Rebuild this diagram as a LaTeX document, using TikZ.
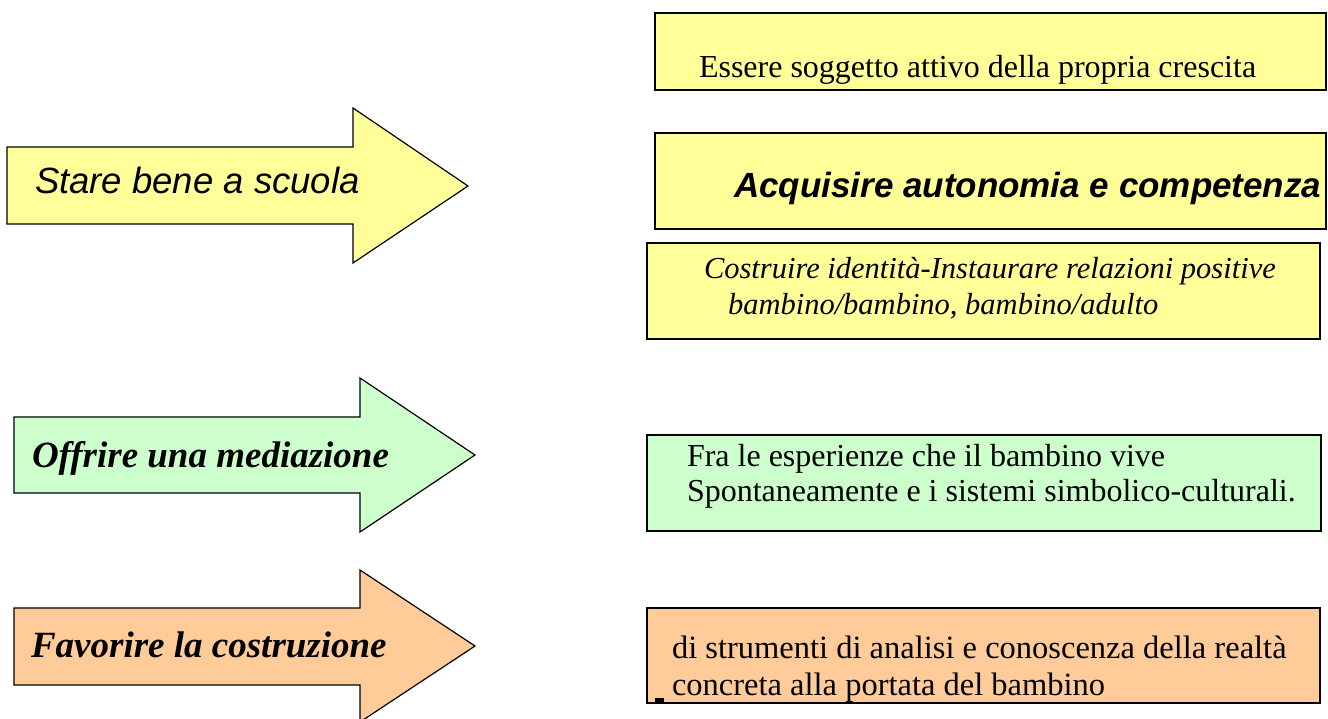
\documentclass[tikz,border=0pt]{standalone}
\usepackage{fontspec}
\setmainfont{Liberation Serif}
\setsansfont{Liberation Sans}
\definecolor{ylw}{HTML}{FFFF99}
\definecolor{grn}{HTML}{CCFFCC}
\definecolor{org}{HTML}{FFCC99}
\begin{document}
\begin{tikzpicture}[x=1pt,y=-1pt,
  arrowshape/.style={draw=black,line width=1.2pt,line join=miter},
  boxframe/.style={draw=black,line width=1.6pt},
  txt/.style={inner sep=0pt,outer sep=0pt,anchor=base west}]
\useasboundingbox (0,0) rectangle (1328,718);
% arrows
\filldraw[arrowshape,fill=ylw] (7,147) -- (353,147) -- (353,108) -- (468,186) -- (353,263) -- (353,224) -- (7,224) -- cycle;
\filldraw[arrowshape,fill=grn] (14,417) -- (360,417) -- (360,378) -- (475,455) -- (360,532) -- (360,493) -- (14,493) -- cycle;
\filldraw[arrowshape,fill=org] (14,608) -- (360,608) -- (360,570) -- (475,646) -- (360,722) -- (360,685) -- (14,685) -- cycle;
\node[txt] (a1) at (35,193) {\fontsize{36.5}{40}\sffamily\itshape Stare bene a scuola};
\node[txt] (a2) at (32,467) {\fontsize{37}{40}\bfseries\itshape Offrire una mediazione};
\node[txt] (a3) at (31,657) {\fontsize{37}{40}\bfseries\itshape Favorire la costruzione};
% boxes
\filldraw[boxframe,fill=ylw] (655,13) rectangle (1326,90);
\filldraw[boxframe,fill=ylw] (655,133) rectangle (1326,229);
\filldraw[boxframe,fill=ylw] (647,243) rectangle (1320,339);
\filldraw[boxframe,fill=grn] (647,435) rectangle (1321,531);
\filldraw[boxframe,fill=org] (647,608) rectangle (1320,703);
\node[txt] (t1) at (699,77) {\fontsize{32}{35}\selectfont Essere soggetto attivo della propria crescita};
\node[txt] (t2) at (734,197) {\fontsize{35}{40}\sffamily\bfseries\itshape Acquisire autonomia e competenza};
\node[txt] (t3a) at (704,278) {\fontsize{30.5}{35}\itshape Costruire identità-Instaurare relazioni positive};
\node[txt] (t3b) at (728,314) {\fontsize{30.5}{35}\itshape bambino/bambino, bambino/adulto};
\node[txt] (t4a) at (687,466) {\fontsize{32}{36}\selectfont Fra le esperienze che il bambino vive};
\node[txt] (t4b) at (687,501) {\fontsize{32}{36}\selectfont Spontaneamente e i sistemi simbolico-culturali.};
\node[txt] (t5a) at (672,658) {\fontsize{32.5}{36}\selectfont di strumenti di analisi e conoscenza della realtà};
\node[txt] (t5b) at (672,695) {\fontsize{32.5}{36}\selectfont concreta alla portata del bambino};
\fill[black] (655,698) rectangle (664,702);
\end{tikzpicture}
\end{document}
